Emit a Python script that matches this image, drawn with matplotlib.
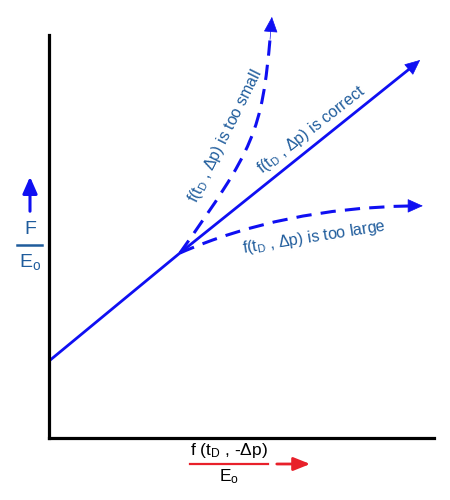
import numpy as np
import matplotlib.pyplot as plt
from matplotlib.lines import Line2D
from matplotlib.path import Path
from matplotlib.patches import PathPatch, FancyArrowPatch

plt.rcParams['font.family'] = ['Liberation Sans', 'DejaVu Sans']
plt.rcParams['mathtext.default'] = 'regular'

LINE_BLUE = '#0f0ff2'
TEXT_BLUE = '#1f5c9c'
RED = '#e8202a'

# data (axes units 0..10)
correct_x = [0.0, 3.40, 9.64]
correct_y = [1.91, 4.59, 9.38]

# cubic bezier: start, control 1, control 2, end
small_x = [3.40, 5.45, 5.55, 5.79]
small_y = [4.59, 7.35, 7.65, 10.45]

large_x = [3.40, 5.27, 7.37, 9.71]
large_y = [4.59, 5.37, 5.76, 5.76]

labels = ['f(t$_D$ , Δp) is too small',
          'f(t$_D$ , Δp) is correct',
          'f(t$_D$ , Δp) is too large']

W, H = 450, 500

fig = plt.figure(figsize=(4.5, 5), dpi=100)
ax = fig.add_axes([49 / W, 1 - 438 / H, (434 - 49) / W, (438 - 35) / H])
ax.set_xlim(0, 10)
ax.set_ylim(0, 10)
for s in ['top', 'right']:
    ax.spines[s].set_visible(False)
for s in ['left', 'bottom']:
    ax.spines[s].set_linewidth(2.3)
    ax.spines[s].set_color('black')
ax.set_xticks([])
ax.set_yticks([])

HEAD = '-|>,head_length=1.0,head_width=0.45'


def arrow_head(x0, y0, x1, y1):
    ax.annotate('', xy=(x1, y1), xytext=(x0, y0),
                arrowprops=dict(arrowstyle=HEAD, color=LINE_BLUE, lw=0.5,
                                shrinkA=0, shrinkB=0),
                annotation_clip=False)


def dashed_curve(xs, ys, t=0.93):
    p = [np.array([x, y]) for x, y in zip(xs, ys)]
    # split cubic at t (de Casteljau), keep first part, head covers the rest
    a = p[0] + t * (p[1] - p[0])
    b = p[1] + t * (p[2] - p[1])
    c = p[2] + t * (p[3] - p[2])
    ab = a + t * (b - a)
    bc = b + t * (c - b)
    e = ab + t * (bc - ab)
    path = Path([p[0], a, ab, e],
                [Path.MOVETO, Path.CURVE4, Path.CURVE4, Path.CURVE4])
    ax.add_patch(PathPatch(path, fill=False, edgecolor=LINE_BLUE, lw=2.2,
                           ls=(0, (5, 3)), clip_on=False))
    d = p[3] - p[2]
    arrow_head(p[3][0] - d[0] * 0.2, p[3][1] - d[1] * 0.2, p[3][0], p[3][1])


ax.plot([correct_x[0], correct_x[1], correct_x[2] - 0.25],
        [correct_y[0], correct_y[1], correct_y[2] - 0.2],
        color=LINE_BLUE, lw=2, clip_on=False, solid_capstyle='butt')
arrow_head(correct_x[2] - 0.3, correct_y[2] - 0.24, correct_x[2], correct_y[2])

dashed_curve(small_x, small_y, t=0.94)
dashed_curve(large_x, large_y, t=0.95)

# curve labels
fig.text(225 / W, 1 - 136 / H, labels[0], color=TEXT_BLUE, fontsize=11.5,
         rotation=63.5, ha='center', va='center', rotation_mode='anchor')
fig.text(311 / W, 1 - 130 / H, labels[1], color=TEXT_BLUE, fontsize=11.5,
         rotation=38, ha='center', va='center', rotation_mode='anchor')
fig.text(314 / W, 1 - 237 / H, labels[2], color=TEXT_BLUE, fontsize=11.5,
         rotation=9, ha='center', va='center', rotation_mode='anchor')

# y axis label: F / Eo with up arrow
fig.text(30 / W, 1 - 230 / H, 'F', color=TEXT_BLUE, fontsize=14,
         ha='center', va='center')
fig.add_artist(Line2D([17 / W, 42 / W], [1 - 245 / H, 1 - 245 / H],
                      color=TEXT_BLUE, lw=1.8))
fig.text(30 / W, 1 - 262 / H, 'E$_o$', color=TEXT_BLUE, fontsize=14,
         ha='center', va='center')
fig.add_artist(FancyArrowPatch(
    (30 / W, 1 - 214 / H), (30 / W, 1 - 174 / H), transform=fig.transFigure,
    arrowstyle='-|>,head_length=5,head_width=2.2', color=LINE_BLUE, lw=2.2,
    mutation_scale=2))

# x axis label: f(tD, -dp) / Eo with right arrow
fig.text(229 / W, 1 - 451 / H, 'f (t$_D$ , -Δp)', color='black', fontsize=12.5,
         ha='center', va='center')
fig.add_artist(Line2D([190 / W, 268 / W], [1 - 464 / H, 1 - 464 / H],
                      color=RED, lw=1.6))
fig.text(229 / W, 1 - 477 / H, 'E$_o$', color='black', fontsize=12.5,
         ha='center', va='center')
fig.add_artist(FancyArrowPatch(
    (274 / W, 1 - 464 / H), (313 / W, 1 - 464 / H), transform=fig.transFigure,
    arrowstyle='-|>,head_length=5,head_width=2', color=RED, lw=2,
    mutation_scale=2))

fig.savefig('out.png', dpi=100)
